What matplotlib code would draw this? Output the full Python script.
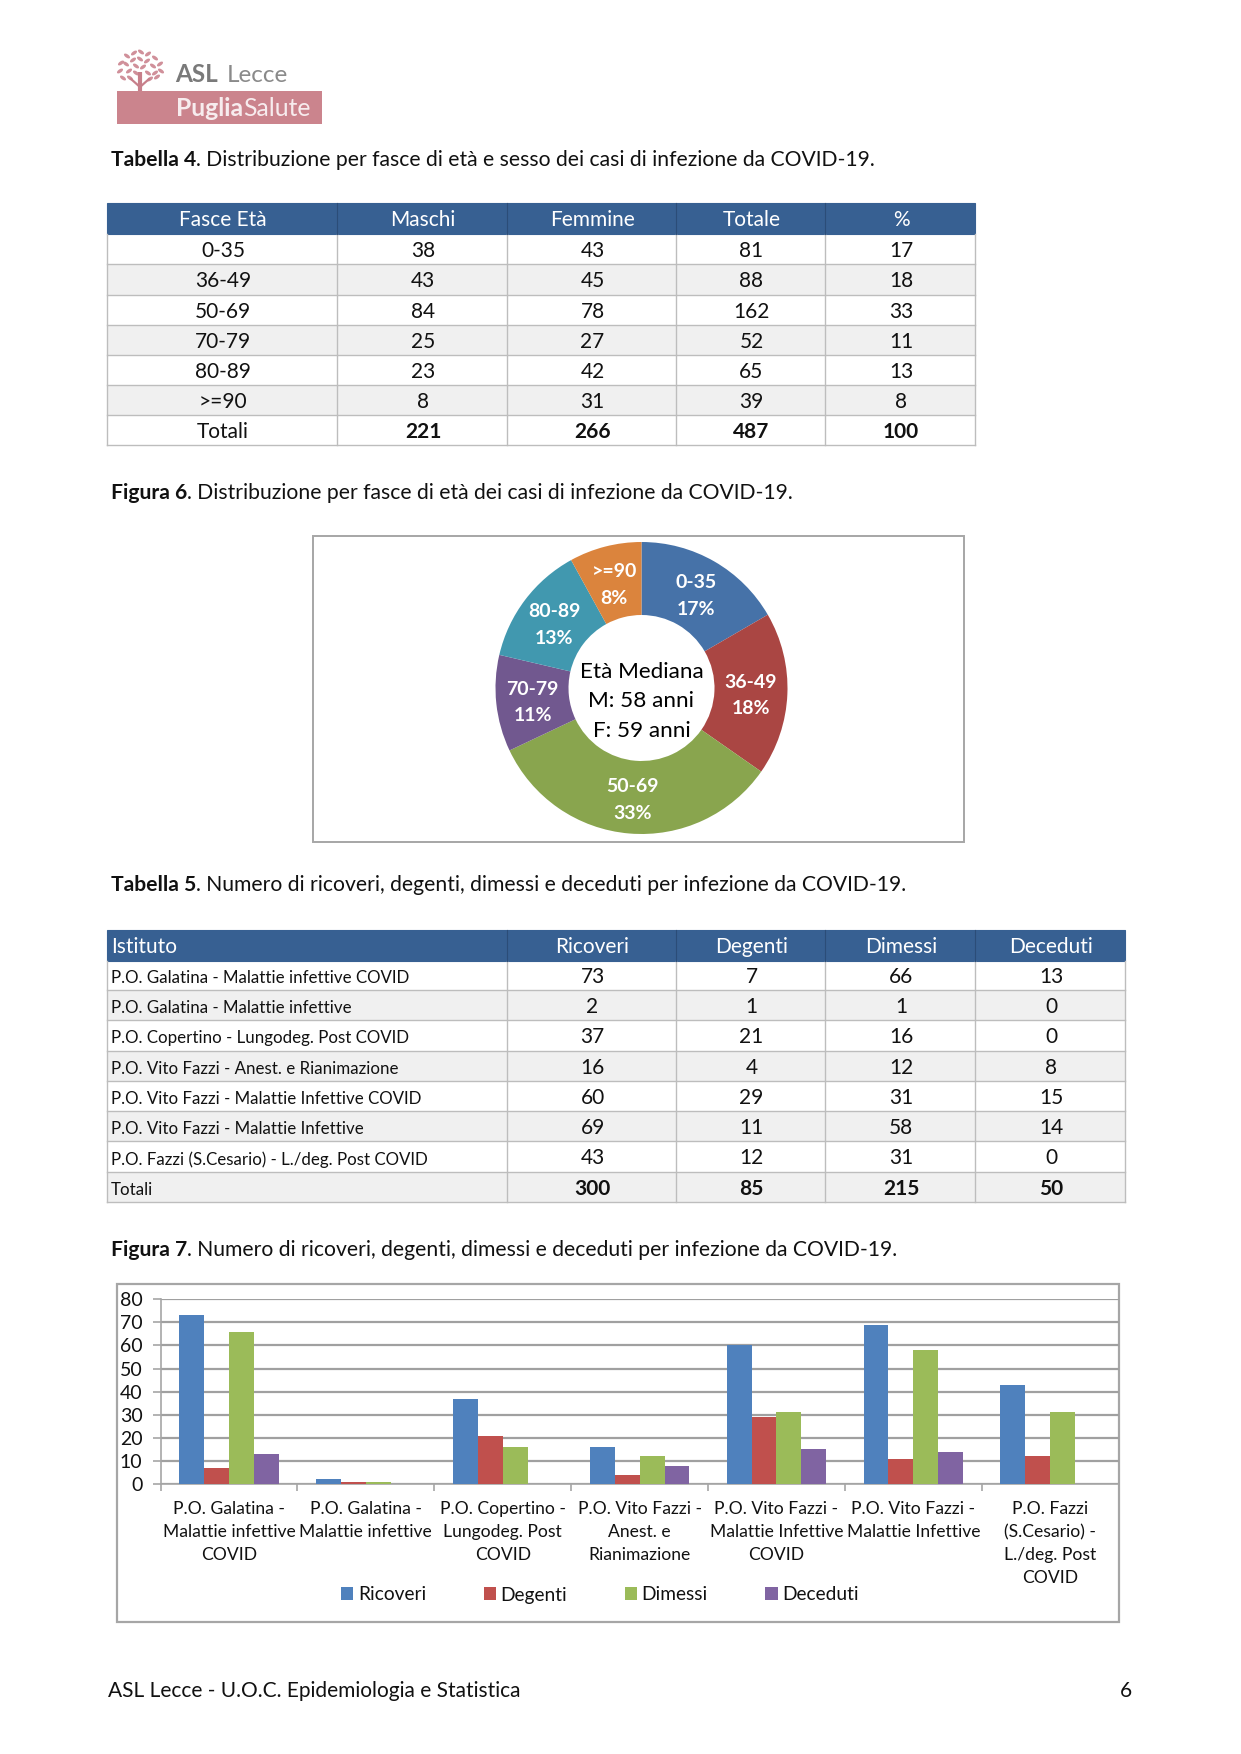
import matplotlib
matplotlib.use('Agg')
import matplotlib.pyplot as plt
from matplotlib.patches import Rectangle, Ellipse

plt.rcParams['font.family'] = ['Lato', 'DejaVu Sans']

W, H = 1241, 1754

# Tabella 4
fasce = ['0-35', '36-49', '50-69', '70-79', '80-89', '>=90']
maschi = [38, 43, 84, 25, 23, 8]
femmine = [43, 45, 78, 27, 42, 31]
totale = [81, 88, 162, 52, 65, 39]
percent = [17, 18, 33, 11, 13, 8]
totali_4 = ['Totali', '221', '266', '487', '100']
header_4 = ['Fasce Età', 'Maschi', 'Femmine', 'Totale', '%']

# Tabella 5
istituti = ['P.O. Galatina - Malattie infettive COVID',
            'P.O. Galatina - Malattie infettive',
            'P.O. Copertino - Lungodeg. Post COVID',
            'P.O. Vito Fazzi - Anest. e Rianimazione',
            'P.O. Vito Fazzi - Malattie Infettive COVID',
            'P.O. Vito Fazzi - Malattie Infettive',
            'P.O. Fazzi (S.Cesario) - L./deg. Post COVID']
ricoveri = [73, 2, 37, 16, 60, 69, 43]
degenti = [7, 1, 21, 4, 29, 11, 12]
dimessi = [66, 1, 16, 12, 31, 58, 31]
deceduti = [13, 0, 0, 8, 15, 14, 0]
totali_5 = ['Totali', '300', '85', '215', '50']
header_5 = ['Istituto', 'Ricoveri', 'Degenti', 'Dimessi', 'Deceduti']

# Figura 7
bar_labels = ['P.O. Galatina -\nMalattie infettive\nCOVID',
              'P.O. Galatina -\nMalattie infettive',
              'P.O. Copertino -\nLungodeg. Post\nCOVID',
              'P.O. Vito Fazzi -\nAnest. e\nRianimazione',
              'P.O. Vito Fazzi -\nMalattie Infettive\nCOVID',
              'P.O. Vito Fazzi -\nMalattie Infettive',
              'P.O. Fazzi\n(S.Cesario) -\nL./deg. Post\nCOVID']
bar_colors = ['#4F81BD', '#C0504D', '#9BBB59', '#8064A2']
pie_colors = ['#4672A8', '#AA4643', '#89A54E', '#71588F', '#4198AF', '#DB843D']

HEADER = '#376092'
BORDER = '#BDBDBD'
STRIPE = '#F0F0F0'
FRAME = '#A6A6A6'


def axes_px(fig, left, top, right, bottom):
    return fig.add_axes([left / W, 1 - bottom / H, (right - left) / W, (bottom - top) / H])


def caption(ax, y, bold, rest):
    t = ax.text(111, y, bold, fontsize=15.2, fontweight='bold', va='center', ha='left', color='#111111')
    box = t.get_window_extent(renderer=ax.figure.canvas.get_renderer())
    ax.text(box.x1, y, rest, fontsize=15.2, va='center', ha='left', color='#111111')


def draw_table(ax, col_edges, row_edges, header, rows, first_left=False, first_size=15):
    top, bottom = row_edges[0], row_edges[-1]
    left, right = col_edges[0], col_edges[-1]
    ax.add_patch(Rectangle((left, top), right - left, row_edges[1] - top, fc=HEADER, ec=HEADER, lw=0.8))
    for i in range(len(rows)):
        y0, y1 = row_edges[i + 1], row_edges[i + 2]
        if i % 2 == 1:
            ax.add_patch(Rectangle((left, y0), right - left, y1 - y0, fc=STRIPE, ec='none'))
        ax.plot([left, right], [y1, y1], color=BORDER, lw=1)
    for x in col_edges:
        ax.plot([x, x], [row_edges[1], bottom], color=BORDER, lw=1)
    for x in col_edges[1:-1]:
        ax.plot([x, x], [top, row_edges[1]], color='#2B4D78', lw=0.8)

    # header
    for c, label in enumerate(header):
        yc = (top + row_edges[1]) / 2 + 2
        if c == 0 and first_left:
            ax.text(left + 4, yc, label, color='white', fontsize=15, va='center', ha='left')
        else:
            ax.text((col_edges[c] + col_edges[c + 1]) / 2 + 1, yc, label, color='white', fontsize=15,
                    va='center', ha='center')
    # body
    for r, row in enumerate(rows):
        yc = (row_edges[r + 1] + row_edges[r + 2]) / 2 + 1.8
        last = r == len(rows) - 1
        for c, val in enumerate(row):
            weight = 'bold' if last and c > 0 else 'normal'
            if c == 0 and first_left:
                ax.text(left + 4, yc + 1, val, color='#111111', fontsize=first_size, va='center', ha='left')
            else:
                ax.text((col_edges[c] + col_edges[c + 1]) / 2 + 1, yc, str(val), color='#111111', fontsize=15,
                        fontweight=weight, va='center', ha='center')


def draw_logo(ax):
    leaves = [(121, 63), (127, 56), (134, 53), (141, 52), (148, 54), (155, 58), (160, 64), (161, 71),
              (120, 71), (126, 64), (133, 60), (140, 59), (147, 61), (153, 66), (155, 73), (123, 78),
              (129, 71), (136, 66), (143, 67), (148, 73), (150, 79), (130, 78), (157, 77), (136, 73)]
    for i, (x, y) in enumerate(leaves):
        ax.add_patch(Ellipse((x, y), 7, 3.4, angle=35 if i % 2 else -35, fc='#D0909A', ec='none'))
    ax.plot([140, 140], [72, 91], color='#C77F8A', lw=3, solid_capstyle='butt')
    ax.plot([131, 140, 149], [79, 87, 79], color='#C77F8A', lw=1.6)
    ax.add_patch(Rectangle((117, 91), 205, 32.5, fc='#CB848D', ec='none'))
    t = ax.text(175, 75, 'ASL', fontsize=17.5, fontweight='bold', color='#7A7A7A', va='center')
    box = t.get_window_extent(renderer=ax.figure.canvas.get_renderer())
    ax.text(box.x1 + 9, 75, 'Lecce', fontsize=17.5, color='#8A8A8A', va='center')
    t = ax.text(176, 109, 'Puglia', fontsize=17.8, fontweight='bold', color='#F7ECEE', va='center')
    box = t.get_window_extent(renderer=ax.figure.canvas.get_renderer())
    ax.text(box.x1, 109, 'Salute', fontsize=17.8, color='#F7ECEE', va='center')


def draw_pie(fig):
    cx, cy, r = 641.5, 688, 146
    ax = axes_px(fig, cx - r, cy - r, cx + r, cy + r)
    labels = [f'{f}\n{p}%' for f, p in zip(fasce, percent)]
    wedges, texts = ax.pie(totale, labels=labels, colors=pie_colors, startangle=90, counterclock=False,
                           radius=1, labeldistance=0.75, wedgeprops={'width': 0.5, 'linewidth': 0},
                           textprops={'color': 'white', 'fontsize': 14, 'fontweight': 'bold',
                                      'ha': 'center', 'va': 'center', 'linespacing': 1.7})
    for t in texts:
        t.set_ha('center')
        t.set_va('center')
        t.set_y(t.get_position()[1] - 0.02)
    ax.set_xlim(-1, 1)
    ax.set_ylim(-1, 1)
    ax.text(0, -0.09, 'Età Mediana\nM: 58 anni\nF: 59 anni', fontsize=16.2, color='black', ha='center',
            va='center', linespacing=1.6)


def draw_bars(fig):
    ax = axes_px(fig, 160.5, 1299.3, 1118.7, 1484)
    ax.patch.set_alpha(0)
    series = [('Ricoveri', ricoveri), ('Degenti', degenti), ('Dimessi', dimessi), ('Deceduti', deceduti)]
    n = len(ricoveri)
    bw = 0.182
    for s, (name, vals) in enumerate(series):
        xs = [i + 0.136 + s * bw for i in range(n)]
        ax.bar(xs, vals, width=bw, align='edge', color=bar_colors[s], label=name, zorder=3)
    ax.set_xlim(0, n)
    ax.set_ylim(0, 80)
    ax.set_yticks(range(0, 81, 10))
    ax.tick_params(axis='y', labelsize=14, length=6, width=1.2, color=FRAME, pad=7, labelcolor='#111111')
    ax.grid(axis='y', color='#A0A0A0', lw=1.6, zorder=1)
    ax.set_axisbelow(True)
    ax.set_xticks([i + 0.5 for i in range(n)])
    ax.set_xticklabels(bar_labels, fontsize=12.6, color='#111111', linespacing=1.52)
    ax.set_xticks(range(n + 1), minor=True)
    ax.tick_params(axis='x', which='major', length=0, pad=12.5)
    ax.tick_params(axis='x', which='minor', length=5, width=1.2, color=FRAME)
    for side in ['top', 'right']:
        ax.spines[side].set_visible(False)
    for side in ['left', 'bottom']:
        ax.spines[side].set_color(FRAME)
        ax.spines[side].set_linewidth(1.2)
    fig.legend(*ax.get_legend_handles_labels(), loc='center', bbox_to_anchor=(600 / W, 1 - 1595 / H),
               ncol=4, frameon=False, fontsize=13.8, handlelength=0.63, handleheight=0.63, handletextpad=0.25,
               columnspacing=3.0, labelcolor='#111111')


if __name__ == '__main__':
    fig = plt.figure(figsize=(W / 100, H / 100), dpi=100)
    page = fig.add_axes([0, 0, 1, 1])
    page.set_xlim(0, W)
    page.set_ylim(H, 0)
    page.axis('off')

    draw_logo(page)
    caption(page, 160, 'Tabella 4', '. Distribuzione per fasce di età e sesso dei casi di infezione da COVID-19.')
    caption(page, 493, 'Figura 6', '. Distribuzione per fasce di età dei casi di infezione da COVID-19.')
    caption(page, 885, 'Tabella 5', '. Numero di ricoveri, degenti, dimessi e deceduti per infezione da COVID-19.')
    caption(page, 1250, 'Figura 7', '. Numero di ricoveri, degenti, dimessi e deceduti per infezione da COVID-19.')

    rows_4 = [list(r) for r in zip(fasce, maschi, femmine, totale, percent)] + [totali_4]
    draw_table(page, [107, 337, 507, 676, 825, 975],
               [203, 234, 264, 294.5, 325, 355, 385, 415, 445], header_4, rows_4)

    rows_5 = [list(r) for r in zip(istituti, ricoveri, degenti, dimessi, deceduti)] + [totali_5]
    draw_table(page, [107, 507, 676, 825, 975, 1125],
               [930, 960.7, 990, 1020, 1051, 1081, 1111, 1141, 1172, 1202], header_5, rows_5,
               first_left=True, first_size=12.2)

    # chart frames
    page.add_patch(Rectangle((313, 535.7), 651, 306.3, fc='none', ec=FRAME, lw=1.4))
    page.add_patch(Rectangle((117, 1284), 1002, 337.7, fc='none', ec=FRAME, lw=1.6))

    draw_pie(fig)
    draw_bars(fig)

    page.text(108, 1691, 'ASL Lecce - U.O.C. Epidemiologia e Statistica', fontsize=15.05, va='center', color='#111111')
    page.text(1132, 1691, '6', fontsize=15.05, va='center', ha='right', color='#111111')

    fig.savefig('out.png', dpi=100)
